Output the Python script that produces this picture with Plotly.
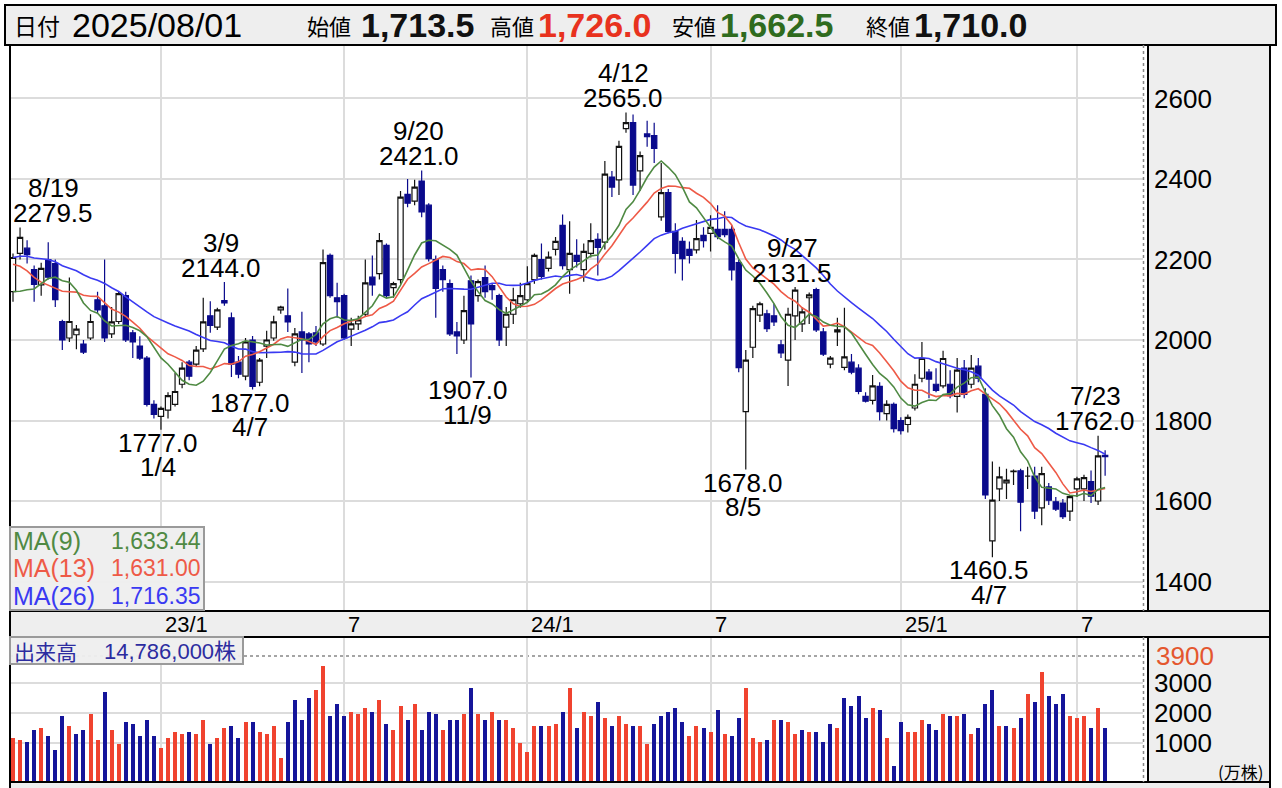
import pandas as pd
import plotly.graph_objects as go

W, H = 1282, 788
FONT = "Liberation Sans, Arial, Noto Sans CJK JP, sans-serif"
CJK = "Noto Sans CJK JP, Liberation Sans, sans-serif"

# ---------------- data (weekly, 万株 for volume) ----------------
week_start = "2022-08-08"
n_weeks = 156

open_ = [2120, 2215, 2228, 2175, 2137, 2200, 2190, 2046, 2005, 2013,
         1990, 2005, 2100, 2085, 2015, 2046, 2110, 2018, 1985, 1955,
         1840, 1810, 1826, 1840, 1890, 1945, 1940, 1978, 2060, 2032,
         2098, 2055, 1945, 1910, 2000, 1895, 1985, 2005, 2075, 2060,
         1945, 2020, 2015, 2018, 1990, 2210, 2105, 2110, 2027, 2040,
         2064, 2156, 2165, 2235, 2130, 2150, 2362, 2345, 2395, 2335,
         2200, 2175, 2140, 2020, 2000, 2147, 2110, 2155, 2135, 2110,
         2032, 2064, 2090, 2100, 2150, 2200, 2178, 2225, 2285, 2175,
         2210, 2175, 2215, 2250, 2243, 2405, 2398, 2525, 2540, 2420,
         2512, 2508, 2306, 2366, 2270, 2245, 2225, 2224, 2260, 2265,
         2275, 2275, 2275, 2192, 1822, 1982, 2062, 2065, 2060, 1988,
         1950, 2060, 2040, 2105, 2125, 2020, 1940, 2020, 1932, 1945,
         1930, 1860, 1850, 1885, 1817, 1840, 1800, 1790, 1831, 1905,
         1920, 1890, 1886, 1890, 1860, 1930, 1890, 1935, 1865, 1501,
         1630, 1645, 1673, 1675, 1662, 1662, 1583, 1635, 1598, 1595,
         1575, 1630, 1630, 1648, 1600, 1713.5]
high = [2215, 2279.5, 2248, 2185, 2192, 2243, 2200, 2050, 2155, 2037,
        2000, 2064, 2120, 2200, 2082, 2120, 2120, 2025, 2009, 1960,
        1850, 1835, 1870, 1918, 1945, 1950, 1985, 2105, 2096, 2080,
        2144, 2068, 1960, 2005, 2010, 1955, 2023, 2060, 2085, 2128,
        2030, 2070, 2020, 2035, 2225, 2215, 2142, 2115, 2055, 2060,
        2200, 2210, 2266, 2240, 2145, 2370, 2400, 2398, 2421, 2340,
        2210, 2185, 2150, 2045, 2110, 2160, 2150, 2185, 2140, 2115,
        2082, 2130, 2142, 2183, 2215, 2240, 2220, 2256, 2312, 2295,
        2250, 2240, 2290, 2265, 2445, 2420, 2495, 2565, 2560, 2468,
        2545, 2540, 2440, 2375, 2290, 2255, 2245, 2298, 2280, 2310,
        2335, 2320, 2285, 2200, 1975, 2085, 2095, 2075, 2090, 2000,
        2080, 2131.5, 2082, 2118, 2130, 2030, 1960, 2055, 2080, 1965,
        1940, 1870, 1913, 1895, 1850, 1845, 1808, 1815, 1915, 1995,
        1928, 1930, 1973, 1925, 1955, 1950, 1963, 1955, 1880, 1698,
        1685, 1680, 1678, 1680, 1685, 1685, 1685, 1645, 1610, 1605,
        1615, 1660, 1665, 1676, 1762, 1726]
low = [2095, 2200, 2190, 2095, 2110, 2150, 2082, 1975, 1995, 1977,
       1965, 2000, 2065, 1995, 2005, 2040, 1995, 1955, 1950, 1835,
       1805, 1777, 1805, 1835, 1880, 1900, 1935, 1970, 2018, 2025,
       2085, 1908, 1905, 1900, 1877, 1885, 1955, 1998, 2065, 2020,
       1935, 1918, 1945, 1985, 1985, 2105, 2055, 2000, 1985, 2025,
       2058, 2110, 2150, 2105, 2105, 2140, 2330, 2335, 2305, 2195,
       2055, 2120, 2010, 1965, 1990, 1907, 2095, 2105, 2100, 1985,
       1985, 2040, 2080, 2095, 2140, 2150, 2170, 2210, 2175, 2115,
       2180, 2145, 2205, 2160, 2225, 2355, 2360, 2515, 2360, 2371,
       2480, 2440, 2296, 2265, 2165, 2148, 2190, 2215, 2230, 2220,
       2250, 2255, 2148, 1920, 1678, 1955, 2045, 2020, 2035, 1955,
       1886, 2000, 2020, 2040, 2020, 1960, 1930, 1985, 1925, 1915,
       1865, 1845, 1840, 1800, 1800, 1770, 1765, 1770, 1825, 1895,
       1855, 1870, 1880, 1855, 1820, 1855, 1880, 1895, 1605, 1460.5,
       1600, 1605, 1640, 1525, 1630, 1555, 1540, 1590, 1575, 1555,
       1550, 1610, 1600, 1595, 1590, 1662.5]
close = [2205, 2255, 2212, 2138, 2178, 2156, 2100, 2000, 2046, 2027,
         1970, 2046, 2075, 2005, 2045, 2115, 2000, 1995, 1955, 1840,
         1815, 1830, 1862, 1872, 1930, 1910, 1975, 2045, 2036, 2075,
         2092, 1940, 1915, 1995, 1885, 1950, 2000, 2045, 2082, 2045,
         2015, 2000, 1990, 1995, 2192, 2110, 2095, 2005, 2040, 2050,
         2142, 2137, 2247, 2110, 2140, 2355, 2340, 2380, 2318, 2202,
         2128, 2150, 2015, 2010, 2073, 2040, 2145, 2120, 2125, 2000,
         2064, 2100, 2110, 2140, 2210, 2158, 2206, 2245, 2185, 2215,
         2195, 2220, 2247, 2230, 2412, 2380, 2481, 2540, 2385, 2458,
         2505, 2476, 2366, 2270, 2215, 2202, 2210, 2252, 2247, 2280,
         2257, 2262, 2174, 1931, 1950, 2078, 2090, 2028, 2045, 1968,
         2064, 2124, 2070, 2112, 2025, 1965, 1955, 2025, 1958, 1920,
         1872, 1848, 1886, 1822, 1840, 1780, 1775, 1808, 1890, 1954,
         1903, 1875, 1954, 1862, 1925, 1865, 1930, 1905, 1615, 1602,
         1660, 1652, 1674, 1597, 1662, 1575, 1668, 1602, 1580, 1561,
         1611, 1655, 1658, 1612, 1712, 1710]
volume = [1170, 1090, 1015, 1430, 1505, 1225, 760, 1890, 1560, 1290,
          1430, 1960, 1090, 2680, 1430, 960, 1690, 1630, 1225, 1760,
          1225, 815, 1170, 1360, 1290, 1360, 1290, 1760, 960, 1170,
          1500, 1560, 1170, 1690, 1690, 1360, 1290, 1560, 480, 1690,
          2430, 1760, 2480, 2760, 3560, 1890, 2290, 1890, 2030, 1960,
          2150, 2030, 2430, 1630, 1430, 2230, 1760, 2290, 1430, 2030,
          1960, 1426, 1760, 1760, 1960, 2816, 1960, 1760, 2016, 1760,
          1760, 1493, 1003, 692, 1560, 1560, 1560, 1626, 2027, 2816,
          1493, 2027, 1893, 2350, 1827, 1560, 1893, 1626, 1560, 1560,
          959, 1626, 1893, 2016, 2161, 1693, 1226, 1560, 1493, 1360,
          2094, 1293, 1226, 1827, 2816, 1159, 1025, 1092, 1760, 1760,
          1693, 1293, 1426, 1360, 1360, 1025, 1626, 1493, 2482, 2227,
          2560, 1827, 2160, 2094, 1159, 223, 1693, 1360, 1360, 1760,
          1626, 1426, 1960, 1893, 1893, 1960, 1293, 1493, 2294, 2760,
          1560, 1560, 1493, 1827, 2627, 2360, 3360, 2560, 2294, 2627,
          1893, 1827, 1893, 1493, 2160, 1478.6]
# closes of the 25 weeks before the window (only used to warm up the moving averages)
pre_close = [2180, 2210, 2250, 2230, 2200, 2240, 2260, 2210, 2190, 2230,
             2250, 2220, 2216, 2320, 2360, 2350, 2330, 2250, 2180, 2120,
             2060, 2040, 2070, 2080, 2080]

price_ticks = [1400, 1600, 1800, 2000, 2200, 2400, 2600]
vol_ticks = [1000, 2000, 3000]
vol_max_label = 3900
grid_dates = ["2023-01-02", "2023-07-03", "2024-01-01", "2024-07-01", "2025-01-06", "2025-06-30"]
grid_labels = ["23/1", "7", "24/1", "7", "25/1", "7"]
high_marks = [("2022-08-15", 2279.5, "8/19"), ("2023-03-06", 2144.0, "3/9"),
              ("2023-09-18", 2421.0, "9/20"), ("2024-04-08", 2565.0, "4/12"),
              ("2024-09-23", 2131.5, "9/27"), ("2025-07-21", 1762.0, "7/23")]
low_marks = [("2023-01-02", 1777.0, "1/4"), ("2023-04-03", 1877.0, "4/7"),
             ("2023-11-06", 1907.0, "11/9"), ("2024-08-05", 1678.0, "8/5"),
             ("2025-04-07", 1460.5, "4/7")]
header_date = "2025/08/01"
header_ohlc = [("始値", "1,713.5", "#111111"), ("高値", "1,726.0", "#e8321e"),
               ("安値", "1,662.5", "#2f6b1e"), ("終値", "1,710.0", "#111111")]
last_volume_text = "14,786,000株"

# ---------------- derived ----------------
dates = pd.date_range(week_start, periods=n_weeks, freq="7D")
allc = pd.Series(pre_close + close, dtype=float)
ma9 = allc.rolling(9).mean().iloc[-n_weeks:].values
ma13 = allc.rolling(13).mean().iloc[-n_weeks:].values
ma26 = allc.rolling(26).mean().iloc[-n_weeks:].values
prev = [pre_close[-1]] + close[:-1]
RED, BLUE = "#f0432f", "#15159a"
vol_colors = [RED if c >= p else BLUE for c, p in zip(close, prev)]

# ---------------- geometry (pixels) ----------------
PL, PR = 10, 1143          # plot area left / right
MT, MB = 45, 611           # main panel top / bottom
VT, VB = 637, 782          # volume panel top / bottom
d0 = pd.Timestamp(week_start)
px_per_day = 7.046 / 7
x_first = 13
xr0 = d0 + pd.Timedelta(days=(PL - x_first) / px_per_day)
xr1 = d0 + pd.Timedelta(days=(PR - x_first) / px_per_day)
price_range = [1326.7, 2732.9]
vol_floor = -314
vol_range = [vol_floor, 4532]
bar_ms = 4.0 / px_per_day * 86400000

def fx(x):
    return x / W

def fy(y):
    return 1 - y / H

fig = go.Figure()
fig.add_trace(go.Candlestick(
    x=dates, open=open_, high=high, low=low, close=close,
    increasing=dict(line=dict(color="#111111", width=1.2), fillcolor="white"),
    decreasing=dict(line=dict(color="#0a0a8c", width=1.2), fillcolor="#0a0a8c"),
    whiskerwidth=0, xaxis="x", yaxis="y", hoverinfo="skip"))
fig.add_trace(go.Scatter(x=dates, y=ma26, mode="lines", line=dict(color="#3a3af2", width=1.6),
                         xaxis="x", yaxis="y", hoverinfo="skip"))
fig.add_trace(go.Scatter(x=dates, y=ma13, mode="lines", line=dict(color="#ee5a47", width=1.6),
                         xaxis="x", yaxis="y", hoverinfo="skip"))
fig.add_trace(go.Scatter(x=dates, y=ma9, mode="lines", line=dict(color="#4f8a43", width=1.6),
                         xaxis="x", yaxis="y", hoverinfo="skip"))
fig.add_trace(go.Bar(x=dates, y=[v - vol_floor for v in volume], base=vol_floor,
                     marker=dict(color=vol_colors, line=dict(width=0)), width=bar_ms,
                     xaxis="x2", yaxis="y2", hoverinfo="skip"))

shapes = []
def rect(x0, y0, x1, y1, fill, line=None, lw=0, layer="below"):
    shapes.append(dict(type="rect", xref="paper", yref="paper", x0=fx(x0), x1=fx(x1),
                       y0=fy(y1), y1=fy(y0), fillcolor=fill, layer=layer,
                       line=dict(color=line or fill, width=lw)))
def hline(x0, x1, y, color="black", w=2, dash="solid", layer="above"):
    shapes.append(dict(type="line", xref="paper", yref="paper", x0=fx(x0), x1=fx(x1),
                       y0=fy(y), y1=fy(y), line=dict(color=color, width=w, dash=dash), layer=layer))
def vline(x, y0, y1, color="black", w=2, dash="solid", layer="above"):
    shapes.append(dict(type="line", xref="paper", yref="paper", x0=fx(x), x1=fx(x),
                       y0=fy(y0), y1=fy(y1), line=dict(color=color, width=w, dash=dash), layer=layer))

# panels
rect(5, 5, 1276, 45, "#eeeeee", "black", 2)
rect(1148, MT, 1270, MB, "#eeeeee")
rect(PL, MB, 1270, VT, "#eeeeee")
rect(1148, VT, 1270, VB, "#eeeeee")
rect(PL, VB, 1270, H, "#eeeeee")
# borders
for y in (MT, MB, VT, VB):
    hline(PL, 1270, y)
vline(PL, MT, H)
vline(1270, MT, H)
vline(1148, MT, MB)
vline(1148, VT, VB)
vline(1143.5, MT, MB, color="#888888", w=1.5, dash="dot")
vline(1143.5, VT, VB, color="#888888", w=1.5, dash="dot")
# max volume dotted line
shapes.append(dict(type="line", xref="paper", yref="y2", x0=fx(PL), x1=fx(PR), y0=vol_max_label,
                   y1=vol_max_label, line=dict(color="#888888", width=1.5, dash="dot"), layer="below"))
# legend boxes
rect(PL, 527, 204, 610, "rgba(238,238,238,0.95)", "#9a9a9a", 2, layer="above")
rect(PL, 637, 243, 664, "rgba(238,238,238,0.95)", "#9a9a9a", 2, layer="above")

ann = []
def text(x, y, s, size, color="black", anchor="left", font=FONT, bold=False, vanchor="middle"):
    ann.append(dict(xref="paper", yref="paper", x=fx(x), y=fy(y), text=(f"<b>{s}</b>" if bold else s),
                    showarrow=False, xanchor=anchor, yanchor=vanchor,
                    font=dict(size=size, color=color, family=font)))

# header
text(12, 25, "日付", 23, font=CJK)
text(70, 25, header_date, 34)
hx = [(305, 359), (488, 536), (670, 718), (864, 912)]
for (lab, val, col), (xl, xv) in zip(header_ohlc, hx):
    text(xl, 25, lab, 22, font=CJK)
    text(xv, 25, val, 34, color=col, bold=True)

# MA legend
for (lab, val, col), yy in zip([("MA(9)", f"{ma9[-1]:,.2f}", "#4f8a43"),
                                ("MA(13)", f"{ma13[-1]:,.2f}", "#ee5a47"),
                                ("MA(26)", f"{ma26[-1]:,.2f}", "#3a3af2")], [541, 568, 596]):
    text(11, yy, lab, 25, color=col)
    text(203, yy, val, 23, color=col, anchor="right")

# volume legend
text(12, 651, "出来高", 21, color="#2c2ca0", font=CJK)
text(102, 651, last_volume_text, 22, color="#2c2ca0")
text(1154, 656, str(vol_max_label), 26, color="#e4572e")
text(1266, 771, "(万株)", 17, anchor="right", font=CJK)

# x strip labels (upper strip and the partly visible lower strip)
for d, lab in zip(grid_dates, grid_labels):
    for ypix in (624, 797):
        ann.append(dict(xref="x", yref="paper", x=d, y=fy(ypix), text=lab, showarrow=False,
                        xanchor="left", yanchor="middle", xshift=2,
                        font=dict(size=22, color="black", family=FONT)))

# extreme labels
for k, (d, p, lab) in enumerate(high_marks):
    xs = 33 if k == 0 else -3
    ann.append(dict(xref="x", yref="y", x=d, y=p, text=f"{p:.1f}", showarrow=False, xanchor="center",
                    yanchor="middle", xshift=xs, yshift=14.5, font=dict(size=26, color="black", family=FONT)))
    ann.append(dict(xref="x", yref="y", x=d, y=p, text=lab, showarrow=False, xanchor="center",
                    yanchor="middle", xshift=xs, yshift=39.5, font=dict(size=26, color="black", family=FONT)))
for d, p, lab in low_marks:
    ann.append(dict(xref="x", yref="y", x=d, y=p, text=f"{p:.1f}", showarrow=False, xanchor="center",
                    yanchor="middle", xshift=-3, yshift=-13, font=dict(size=26, color="black", family=FONT)))
    ann.append(dict(xref="x", yref="y", x=d, y=p, text=lab, showarrow=False, xanchor="center",
                    yanchor="middle", xshift=-3, yshift=-37.5, font=dict(size=26, color="black", family=FONT)))

grid = dict(showgrid=True, gridcolor="#dcdcdc", gridwidth=2, zeroline=False, showline=False,
            fixedrange=True, ticks="")
fig.update_layout(
    width=W, height=H, autosize=False, margin=dict(l=0, r=0, t=0, b=0),
    paper_bgcolor="white", plot_bgcolor="white", showlegend=False,
    boxgap=0.25, boxgroupgap=0, bargap=0,
    font=dict(family=FONT, color="black"),
    xaxis=dict(domain=[fx(PL), fx(PR)], type="date", range=[xr0, xr1], tickvals=grid_dates,
               showticklabels=False, rangeslider=dict(visible=False), anchor="y", **grid),
    xaxis2=dict(domain=[fx(PL), fx(PR)], type="date", range=[xr0, xr1], tickvals=grid_dates,
                showticklabels=False, matches="x", anchor="y2", **grid),
    yaxis=dict(domain=[fy(MB), fy(MT)], range=price_range, side="right", tickvals=price_ticks,
               tickfont=dict(size=26, color="black"), ticklabelstandoff=10, anchor="x", **grid),
    yaxis2=dict(domain=[fy(VB), fy(VT)], range=vol_range, side="right", tickvals=vol_ticks,
                tickfont=dict(size=26, color="black"), ticklabelstandoff=10, anchor="x2", **grid),
    shapes=shapes, annotations=ann,
)
fig.write_html("out.html", config={"displayModeBar": False, "staticPlot": True},
               post_script="document.body.style.margin='0';document.body.style.overflow='hidden';")
